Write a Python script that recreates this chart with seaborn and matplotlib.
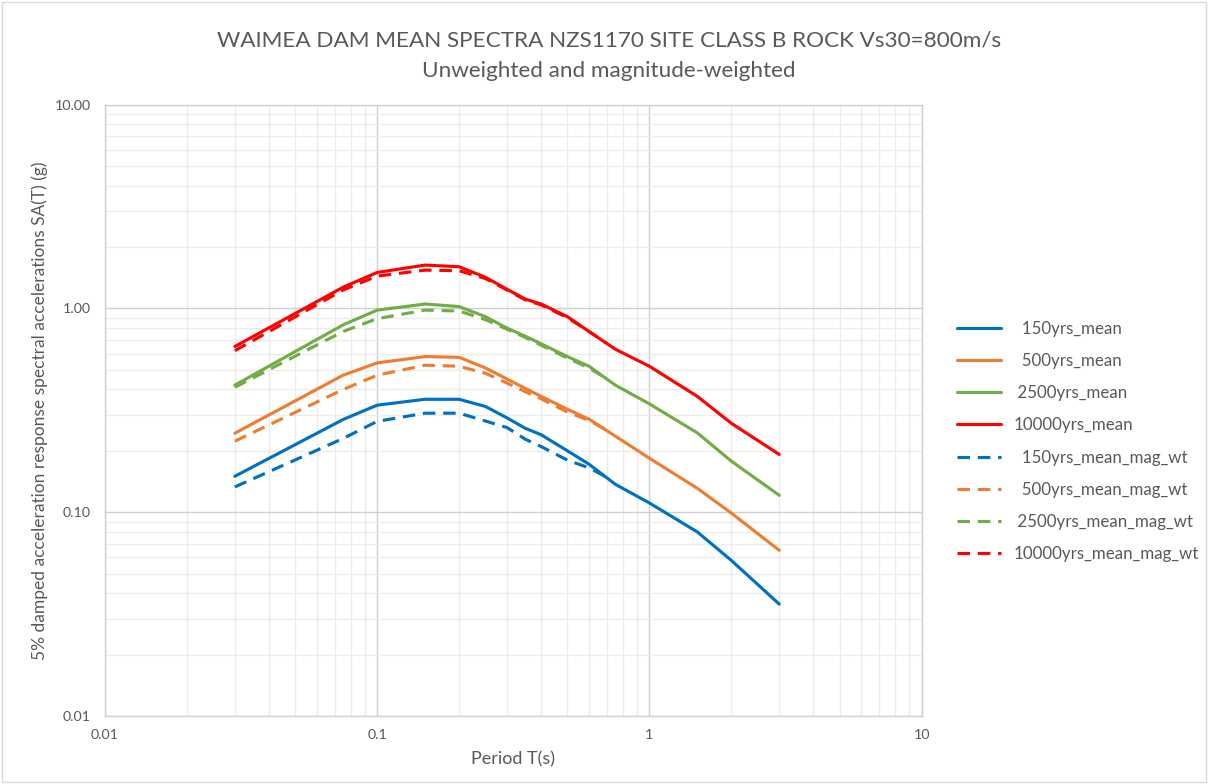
import pandas as pd
import seaborn as sns
import matplotlib.pyplot as plt
from matplotlib.ticker import LogLocator, FixedLocator, FixedFormatter, NullFormatter

# periods (s)
periods = [0.03, 0.075, 0.1, 0.15, 0.2, 0.25, 0.3, 0.35, 0.4, 0.5, 0.6, 0.75, 1.0, 1.5, 2.0, 3.0]
periods_wt = [0.03, 0.075, 0.1, 0.15, 0.2, 0.25, 0.3, 0.35, 0.4, 0.5, 0.6, 0.7]

# unweighted mean spectra SA(T) (g)
sa_150 = [0.150, 0.285, 0.335, 0.358, 0.358, 0.330, 0.290, 0.258, 0.240, 0.200, 0.172, 0.137, 0.111, 0.080, 0.058, 0.0354]
sa_500 = [0.244, 0.470, 0.540, 0.580, 0.575, 0.510, 0.450, 0.405, 0.370, 0.320, 0.286, 0.236, 0.184, 0.131, 0.099, 0.065]
sa_2500 = [0.42, 0.83, 0.98, 1.05, 1.02, 0.91, 0.80, 0.73, 0.67, 0.58, 0.52, 0.42, 0.34, 0.245, 0.178, 0.121]
sa_10000 = [0.65, 1.27, 1.50, 1.63, 1.60, 1.42, 1.24, 1.11, 1.05, 0.91, 0.77, 0.63, 0.52, 0.37, 0.273, 0.192]

# magnitude-weighted mean spectra
wt_150 = [0.133, 0.230, 0.279, 0.306, 0.306, 0.280, 0.260, 0.228, 0.210, 0.180, 0.165, 0.148]
wt_500 = [0.223, 0.400, 0.470, 0.526, 0.520, 0.480, 0.430, 0.390, 0.360, 0.310, 0.282, 0.252]
wt_2500 = [0.41, 0.77, 0.89, 0.98, 0.97, 0.88, 0.79, 0.72, 0.66, 0.57, 0.51, 0.45]
wt_10000 = [0.62, 1.23, 1.44, 1.54, 1.53, 1.40, 1.23, 1.10, 1.04, 0.90, 0.77, 0.67]

labels = ['  150yrs_mean', '  500yrs_mean', ' 2500yrs_mean', '10000yrs_mean',
          '  150yrs_mean_mag_wt', '  500yrs_mean_mag_wt', ' 2500yrs_mean_mag_wt', '10000yrs_mean_mag_wt']
colors = ['#0070C0', '#ED7D31', '#70AD47', '#FF0000'] * 2

rows = []
for lab, vals in zip(labels[:4], [sa_150, sa_500, sa_2500, sa_10000]):
    rows += [(lab, p, v) for p, v in zip(periods, vals)]
for lab, vals in zip(labels[4:], [wt_150, wt_500, wt_2500, wt_10000]):
    rows += [(lab, p, v) for p, v in zip(periods_wt, vals)]
df = pd.DataFrame(rows, columns=['series', 'period', 'sa'])

sns.set_style('white')
plt.rcParams['font.family'] = ['Lato', 'DejaVu Sans']
txt = '#595959'

fig = plt.figure(figsize=(12.08, 7.84), dpi=100)
ax = fig.add_axes([0.0869, 0.0867, 0.676, 0.780])

dashes = {lab: '' for lab in labels[:4]}
dashes.update({lab: (4, 2.5) for lab in labels[4:]})
sns.lineplot(data=df, x='period', y='sa', hue='series', style='series',
             hue_order=labels, style_order=labels, palette=colors, dashes=dashes,
             linewidth=2.25, ax=ax, sort=False)

ax.set_xscale('log')
ax.set_yscale('log')
ax.set_xlim(0.01, 10)
ax.set_ylim(0.01, 10)

ax.xaxis.set_major_locator(FixedLocator([0.01, 0.1, 1, 10]))
ax.xaxis.set_major_formatter(FixedFormatter(['0.01', '0.1', '1', '10']))
ax.yaxis.set_major_locator(FixedLocator([0.01, 0.1, 1, 10]))
ax.yaxis.set_major_formatter(FixedFormatter(['0.01', '0.10', '1.00', '10.00']))
ax.xaxis.set_minor_locator(LogLocator(base=10, subs=range(2, 10)))
ax.yaxis.set_minor_locator(LogLocator(base=10, subs=range(2, 10)))
ax.xaxis.set_minor_formatter(NullFormatter())
ax.yaxis.set_minor_formatter(NullFormatter())

ax.grid(True, which='major', color='#d0d0d0', linewidth=1.0)
ax.grid(True, which='minor', color='#ececec', linewidth=1.0)
ax.set_axisbelow(True)
ax.tick_params(which='both', length=0, labelsize=10.3, labelcolor=txt)
ax.tick_params(axis='x', pad=9)
ax.tick_params(axis='y', pad=10)
for s in ax.spines.values():
    s.set_color('#d0d0d0')
    s.set_linewidth(1.0)

ax.set_xlabel('Period T(s)', fontsize=13, color=txt, labelpad=8)
ax.set_ylabel('5% damped acceleration response spectral accelerations SA(T) (g)',
              fontsize=12.5, color=txt, labelpad=5)

fig.text(0.504, 0.948, 'WAIMEA DAM MEAN SPECTRA NZS1170 SITE CLASS B ROCK Vs30=800m/s',
         ha='center', va='center', fontsize=16.2, color=txt)
fig.text(0.504, 0.910, 'Unweighted and magnitude-weighted',
         ha='center', va='center', fontsize=16.2, color=txt)

handles, labs = ax.get_legend_handles_labels()
leg = ax.legend(handles, labs, loc='center left', bbox_to_anchor=(1.025, 0.449),
                frameon=False, fontsize=12.2, labelspacing=0.96, handlelength=2.6,
                handletextpad=0.7)
for t in leg.get_texts():
    t.set_color(txt)
for h in leg.get_lines():
    h.set_linewidth(2.25)

fig.patches.append(plt.Rectangle((0.002, 0.002), 0.996, 0.996, transform=fig.transFigure,
                                 fill=False, edgecolor='#d9d9d9', linewidth=1))
fig.savefig('out.png', dpi=100)
